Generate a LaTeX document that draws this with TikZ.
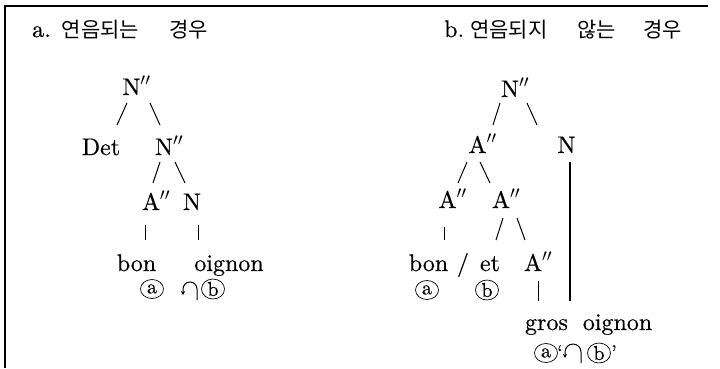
\documentclass[tikz,border=0pt]{standalone}
\usepackage{fontspec}
\setmainfont{lmroman10-regular}[Extension=.otf,BoldFont=lmroman10-bold,ItalicFont=lmroman10-italic,FakeBold=0.5]
\newfontfamily\cjk{Noto Sans CJK KR}
\usetikzlibrary{calc,arrows.meta,shapes.geometric}
\begin{document}
\begin{tikzpicture}[x=1pt,y=-1pt,
  lab/.style={anchor=base,inner sep=0pt,font=\fontsize{24}{28}\selectfont},
  title/.style={anchor=base west,inner sep=0pt,font=\fontsize{24}{28}\selectfont},
  circ/.style={draw,ellipse,minimum width=23pt,minimum height=19pt,inner sep=0pt,line width=0.7pt,font=\fontsize{20}{22}\selectfont},
  qt/.style={anchor=base,inner sep=0pt,font=\fontsize{20}{22}\selectfont},
  tl/.style={line width=1pt},
  longl/.style={line width=1.6pt},
  hookarr/.style={line width=1pt,-{Stealth[length=4pt,width=4pt]}}]
\useasboundingbox (0,0) rectangle (720,368);
% frame
\draw[line width=1.5pt] (5,368) -- (5,6) -- (708,6);
% titles
\node[title] (ta) at (32,37) {a.\hspace{11pt}{\cjk\fontsize{21}{24}\selectfont 연음되는\hspace{30pt}경우}};
\node[title] (tb) at (444,37) {b.\hspace{6pt}{\cjk\fontsize{21}{24}\selectfont 연음되지\hspace{30pt}않는\hspace{27pt}경우}};
% ---------- tree a ----------
\node[lab] (aN1) at (136.5,95) {N$''$};
\node[lab] (aDet) at (101,155) {Det};
\node[lab] (aN2) at (169,155) {N$''$};
\node[lab] (aA) at (156,210) {A$''$};
\node[lab] (aN3) at (192,210) {N};
\node[lab] (abon) at (136.5,271) {bon};
\node[lab] (aoig) at (229,271) {oignon};
\node[circ] (aca) at (152,289) {a};
\node[circ] (acb) at (213,289) {b};
\draw[tl] ([shift={(-9.5,8)}]aN1.base) -- ([shift={(16,-30)}]aDet.base);
\draw[tl] ([shift={(13.5,8)}]aN1.base) -- ([shift={(-9,-30)}]aN2.base);
\draw[tl] ([shift={(-9,7)}]aN2.base) -- ([shift={(-3,-27)}]aA.base);
\draw[tl] ([shift={(6,7)}]aN2.base) -- ([shift={(-7,-27)}]aN3.base);
\draw[tl] ([shift={(-11,15)}]aA.base) -- ([shift={(8.5,-31)}]abon.base);
\draw[tl] ([shift={(6,15)}]aN3.base) -- ([shift={(-31,-31)}]aoig.base);
\draw[hookarr] (197,300) -- (197,289) arc[start angle=0,end angle=180,radius=7pt] -- (183,295);
% ---------- tree b ----------
\node[lab] (bN1) at (515,97) {N$''$};
\node[lab] (bA1) at (482.5,153) {A$''$};
\node[lab] (bN) at (566.5,153) {N};
\node[lab] (bA2) at (452.5,208) {A$''$};
\node[lab] (bA3) at (506,208) {A$''$};
\node[lab] (bbon) at (428.5,271) {bon};
\node[lab] (bsl) at (463,271) {/};
\node[lab] (bet) at (490,271) {et};
\node[lab] (bA4) at (538,271) {A$''$};
\node[circ] (bca) at (427,290) {a};
\node[circ] (bcb) at (487,290) {b};
\node[lab] (bgros) at (546.5,330) {gros};
\node[lab] (boig) at (617.5,330) {oignon};
\node[circ] (bca2) at (546,353) {a};
\node[qt] (bq1) at (560,359) {‘};
\node[circ] (bcb2) at (599,353) {b};
\node[qt] (bq2) at (614,359) {’};
\draw[tl] ([shift={(-15,6)}]bN1.base) -- ([shift={(10.5,-28)}]bA1.base);
\draw[tl] ([shift={(12,6)}]bN1.base) -- ([shift={(-29.5,-28)}]bN.base);
\draw[tl] ([shift={(-15.5,9)}]bA1.base) -- ([shift={(5.5,-25)}]bA2.base);
\draw[tl] ([shift={(-2.5,9)}]bA1.base) -- ([shift={(-16,-25)}]bA3.base);
\draw[longl] ([shift={(3.5,9)}]bN.base) -- ([shift={(-47.5,-29)}]boig.base);
\draw[tl] ([shift={(-8.5,19)}]bA2.base) -- ([shift={(15.5,-31)}]bbon.base);
\draw[tl] ([shift={(-3,10)}]bA3.base) -- ([shift={(6,-31)}]bet.base);
\draw[tl] ([shift={(11,10)}]bA3.base) -- ([shift={(-13,-31)}]bA4.base);
\draw[tl] ([shift={(0,10)}]bA4.base) -- ([shift={(-8.5,-29)}]bgros.base);
\draw[hookarr] (581,363) -- (581,352) arc[start angle=0,end angle=180,radius=8pt] -- (565,358);
\end{tikzpicture}
\end{document}
